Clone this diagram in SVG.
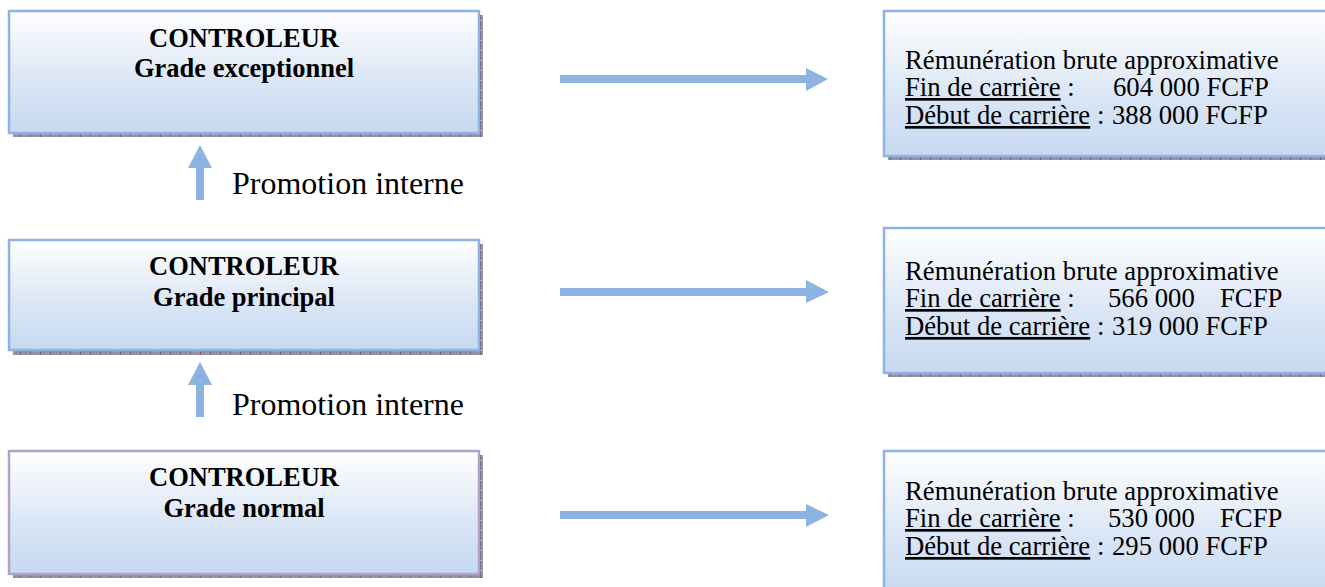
<svg xmlns="http://www.w3.org/2000/svg" width="1325" height="587" viewBox="0 0 1325 587">
<style>
.title{font-family:"Liberation Serif","Times New Roman",serif;font-weight:bold;font-size:26.5px;fill:#000;text-anchor:middle}
.info{font-family:"Liberation Serif","Times New Roman",serif;font-size:26.7px;fill:#000}
.promo{font-family:"Liberation Serif","Times New Roman",serif;font-size:32px;fill:#000}
.box{fill:url(#grad);stroke:#8DB3E2;stroke-width:2.5}
.box.purple{stroke:#B3A2C7}
.shadow{fill:url(#shpat)}
.arrow{fill:#8DB3E2}
.u{text-decoration:underline}
</style>
<defs>
<linearGradient id="grad" x1="0" y1="0" x2="0" y2="1">
<stop offset="0" stop-color="#FFFFFF"/>
<stop offset="0.55" stop-color="#DCE7F6"/>
<stop offset="1" stop-color="#C6D9F1"/>
</linearGradient>
<pattern id="shpat" width="10" height="10" patternUnits="userSpaceOnUse">
<rect width="10" height="10" fill="#9A90A6"/>
<rect x="0" y="0" width="1" height="10" fill="#6F6680"/>
<rect x="0" y="0" width="10" height="1" fill="#B0A8BA"/>
</pattern>
</defs>

<g id="connectors">
<path class="arrow" d="M560,75 H806 V68 L828,79 L806,91 V83 H560 Z"/>
<path class="arrow" d="M560,288 H806 V280 L829,292 L806,303 V296 H560 Z"/>
<path class="arrow" d="M560,511 H806 V504 L829,515 L806,527 V519 H560 Z"/>
<path class="arrow" d="M196,200 V168 H188 L200,145 L212,168 H204 V200 Z"/>
<path class="arrow" d="M196,417 V385 H188 L200,362 L212,385 H204 V417 Z"/>
</g>

<g id="node-exceptionnel">
<rect class="shadow" x="13" y="15" width="470" height="122"/>
<rect class="box" x="9" y="11" width="470" height="122"/>
<text class="title" x="244" y="47">CONTROLEUR</text>
<text class="title" x="244" y="77">Grade exceptionnel</text>
</g>

<g id="node-principal">
<rect class="shadow" x="13" y="244" width="470" height="111"/>
<rect class="box" x="9" y="240" width="470" height="110"/>
<text class="title" x="244" y="275">CONTROLEUR</text>
<text class="title" x="244" y="306">Grade principal</text>
</g>

<g id="node-normal">
<rect class="shadow" x="13" y="455" width="470" height="123"/>
<rect class="box purple" x="9" y="451" width="470" height="123"/>
<text class="title" x="244" y="486">CONTROLEUR</text>
<text class="title" x="244" y="517">Grade normal</text>
</g>

<g id="label-promo-1">
<text class="promo" x="232" y="194">Promotion interne</text>
</g>
<g id="label-promo-2">
<text class="promo" x="232" y="415">Promotion interne</text>
</g>

<g id="node-remu-1">
<rect class="shadow" x="888" y="15" width="460" height="145"/>
<rect class="box" x="884" y="11" width="460" height="145"/>
<text class="info" x="905" y="69">Rémunération brute approximative</text>
<text class="info" y="96"><tspan x="905" class="u">Fin de carrière</tspan><tspan> :</tspan><tspan x="1113">604 000 FCFP</tspan></text>
<text class="info" y="124"><tspan x="905" class="u">Début de carrière</tspan><tspan> :</tspan><tspan x="1112">388 000 FCFP</tspan></text>
</g>

<g id="node-remu-2">
<rect class="shadow" x="888" y="232" width="460" height="145"/>
<rect class="box" x="884" y="228" width="460" height="145"/>
<text class="info" x="905" y="280">Rémunération brute approximative</text>
<text class="info" y="307"><tspan x="905" class="u">Fin de carrière</tspan><tspan> :</tspan><tspan x="1108">566 000</tspan><tspan x="1220">FCFP</tspan></text>
<text class="info" y="335"><tspan x="905" class="u">Début de carrière</tspan><tspan> :</tspan><tspan x="1112">319 000 FCFP</tspan></text>
</g>

<g id="node-remu-3">
<rect class="shadow" x="888" y="455" width="460" height="145"/>
<rect class="box" x="884" y="451" width="460" height="145"/>
<text class="info" x="905" y="500">Rémunération brute approximative</text>
<text class="info" y="527"><tspan x="905" class="u">Fin de carrière</tspan><tspan> :</tspan><tspan x="1108">530 000</tspan><tspan x="1220">FCFP</tspan></text>
<text class="info" y="555"><tspan x="905" class="u">Début de carrière</tspan><tspan> :</tspan><tspan x="1112">295 000 FCFP</tspan></text>
</g>
</svg>
